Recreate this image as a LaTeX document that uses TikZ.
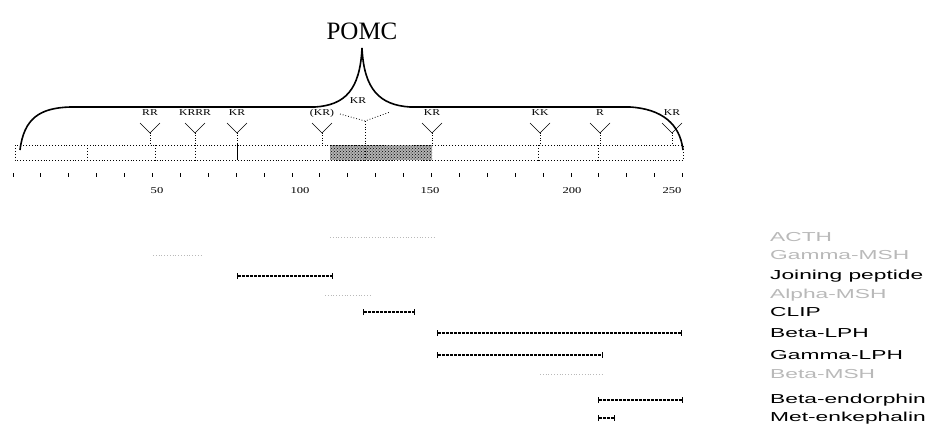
\documentclass[tikz,border=0pt]{standalone}
\usepackage{fontspec}
\usepackage{graphicx}
\setmainfont{Liberation Serif}
\newfontfamily\lblfont{Liberation Sans}
\usetikzlibrary{arrows.meta,patterns}
\newcommand{\widen}[2][1.75]{\scalebox{#1}[1]{#2}}
\tikzset{
  site/.style={inner sep=0pt, font=\fontsize{9}{9}\selectfont},
  num/.style={inner sep=0pt, font=\fontsize{9}{9}\selectfont},
  peplbl/.style={anchor=west, inner sep=0pt, font=\lblfont\fontsize{13}{13}\selectfont},
  pepbar/.style={line width=1.2pt, dash pattern=on 3pt off 1pt, {Bar[width=6pt]}-{Bar[width=6pt]}},
  faintbar/.style={gray!55, line width=0.8pt, dotted},
}
\begin{document}
\begin{tikzpicture}[x=1pt,y=-1pt]
  \useasboundingbox (0,0) rectangle (943,429);
  % ---- Title and brace ----
  \node[font=\fontsize{25}{25}\selectfont] (title) at (362,31) {POMC};
  \draw[line width=1.6pt] (20,150) .. controls (24,118) and (40,108) .. (70,107) -- (315,107)
    .. controls (345,105) and (360,90) .. (362,48) .. controls (364,90) and (380,105) .. (410,107)
    -- (630,107) .. controls (662,109) and (680,124) .. (683,150);

  % ---- Precursor bar ----
  \fill[black!30] (330,145) rectangle (432,160);
  \fill[pattern=crosshatch dots, pattern color=black] (330,145) rectangle (432,160);
  \draw[dotted, line width=0.9pt] (15,145) rectangle (683,160);
  \foreach \x in {87,155,195,365,538,598} \draw[dotted, line width=0.9pt] (\x,145) -- (\x,160);
  \draw[line width=0.9pt] (237,143) -- (237,160);

  % ---- Cleavage sites ----
  \foreach \x/\s in {150/RR, 195/KRRR, 237/KR, 322/(KR), 432/KR, 540/KK, 600/R, 672/KR} {
    \node[site] (s\x) at (\x,113) {\widen[1.3]{\s}};
    \draw[thin] (\x-10,123) -- (\x,133) -- (\x+10,123);
    \draw[dotted] (\x,133) -- (\x,145);
  }
  \node[site] (shump) at (358,101) {\widen[1.3]{KR}};
  \draw[dotted, thick] (340,114) -- (365,121) -- (390,112);
  \draw[dotted, thick] (365,121) -- (365,145);

  % ---- Residue scale ----
  \foreach \i in {0,...,24} \draw[line width=0.9pt] ({13+27.9*\i},173) -- ({13+27.9*\i},177);
  \foreach \x/\n in {157/50, 300/100, 430/150, 572/200, 672/250}
    \node[num] (n\n) at (\x,191) {\widen[1.4]{\n}};

  % ---- Cleavage products ----
  \foreach \a/\b/\y/\t in {330/435/237/ACTH, 153/202/255/Gamma-MSH, 325/372/295/Alpha-MSH, 540/603/374/Beta-MSH} {
    \draw[faintbar] (\a,\y) -- (\b,\y);
    \node[peplbl, gray!55] (p\y) at (770,\y) {\widen{\t}};
  }
  \foreach \a/\b/\y/\t in {237/333/276/Joining peptide, 363/415/312/CLIP, 437/682/333/Beta-LPH,
      437/603/355/Gamma-LPH, 598/683/400/Beta-endorphin, 598/615/418/Met-enkephalin} {
    \draw[pepbar] (\a,\y) -- (\b,\y);
    \node[peplbl] (p\y) at (770,\y) {\widen{\t}};
  }
\end{tikzpicture}
\end{document}
